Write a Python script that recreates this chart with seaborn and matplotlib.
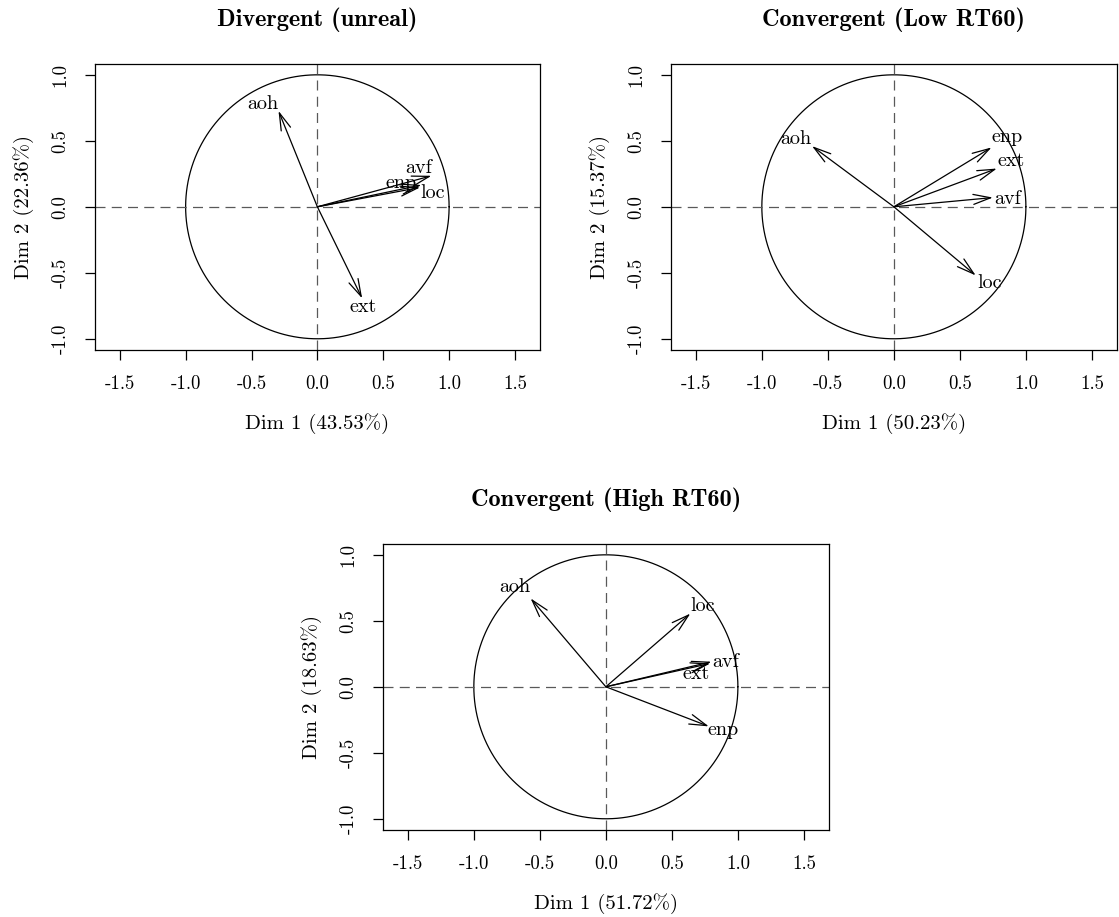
import numpy as np
import pandas as pd
import matplotlib
matplotlib.use("Agg")
import matplotlib.pyplot as plt
import seaborn as sns

# ---------------- data ----------------
variables = ["aoh", "avf", "enp", "loc", "ext"]
titles = ["Divergent (unreal)", "Convergent (Low RT60)", "Convergent (High RT60)"]
dim1_pct = [43.53, 50.23, 51.72]
dim2_pct = [22.36, 15.37, 18.63]

div_dim1 = [-0.295, 0.866, 0.79, 0.78, 0.34]
div_dim2 = [0.727, 0.235, 0.165, 0.147, -0.694]
low_dim1 = [-0.62, 0.75, 0.74, 0.62, 0.78]
low_dim2 = [0.46, 0.07, 0.45, -0.52, 0.29]
high_dim1 = [-0.57, 0.80, 0.78, 0.64, 0.79]
high_dim2 = [0.67, 0.19, -0.30, 0.555, 0.177]

x_ticks = [-1.5, -1.0, -0.5, 0.0, 0.5, 1.0, 1.5]
y_ticks = [-1.0, -0.5, 0.0, 0.5, 1.0]

# ---------------- layout (label placement, like autoLab) ----------------
label_pos = [
    {"aoh": (-0.417, 0.778), "avf": (0.765, 0.291), "enp": (0.639, 0.18),
     "loc": (0.877, 0.106), "ext": (0.344, -0.758)},
    {"aoh": (-0.745, 0.513), "avf": (0.863, 0.058), "enp": (0.861, 0.526),
     "loc": (0.722, -0.576), "ext": (0.889, 0.348)},
    {"aoh": (-0.686, 0.755), "avf": (0.905, 0.19), "enp": (0.89, -0.33),
     "loc": (0.73, 0.61), "ext": (0.685, 0.096)},
]

W, H = 1119, 917
axes_px = [(95, 64, 445, 286), (671, 64, 446, 286), (383, 544, 446, 286)]

sns.set_style("ticks")
plt.rcParams["font.family"] = ["cmr10", "DejaVu Serif"]
plt.rcParams["axes.unicode_minus"] = False
plt.rcParams["axes.linewidth"] = 0.9
plt.rcParams["xtick.major.width"] = 0.9
plt.rcParams["ytick.major.width"] = 0.9
for key in ["text.color", "axes.labelcolor", "xtick.color", "ytick.color",
            "xtick.labelcolor", "ytick.labelcolor", "axes.edgecolor"]:
    plt.rcParams[key] = "black"

fig = plt.figure(figsize=(W / 100, H / 100), dpi=100)

panels = [(div_dim1, div_dim2), (low_dim1, low_dim2), (high_dim1, high_dim2)]

theta = np.linspace(0, 2 * np.pi, 500)
circle = pd.DataFrame({"x": np.cos(theta), "y": np.sin(theta), "o": np.arange(len(theta))})

for i, ((d1, d2), (lx, ty, w, h)) in enumerate(zip(panels, axes_px)):
    ax = fig.add_axes([lx / W, (H - ty - h) / H, w / W, h / H])
    df = pd.DataFrame({"var": variables, "Dim1": d1, "Dim2": d2})

    sns.lineplot(data=circle, x="x", y="y", sort=False, estimator=None,
                 color="black", lw=0.9, ax=ax)
    ax.axhline(0, color="0.35", lw=0.9, dashes=(8, 5))
    ax.axvline(0, color="0.35", lw=0.9, dashes=(8, 5))

    for _, r in df.iterrows():
        ax.annotate("", xy=(r.Dim1, r.Dim2), xytext=(0, 0),
                    arrowprops=dict(arrowstyle="->,head_length=1.25,head_width=0.36",
                                    mutation_scale=10, lw=0.9, color="black",
                                    shrinkA=0, shrinkB=0))
        px, py = label_pos[i][r["var"]]
        ax.text(px, py, r["var"], ha="center", va="center", fontsize=14.5,
                color="black")

    ax.set_xlim(-1.688, 1.69)
    ax.set_ylim(-1.085, 1.082)
    ax.set_xticks(x_ticks)
    ax.set_yticks(y_ticks)
    ax.set_xticklabels([f"{t:.1f}" for t in x_ticks])
    ax.set_yticklabels([f"{t:.1f}" for t in y_ticks], rotation=90, va="center")
    ax.tick_params(axis="both", length=7.2, pad=11, labelsize=13.5, direction="out",
                   color="black", labelcolor="black")
    ax.set_xlabel(f"Dim 1 ({dim1_pct[i]:.2f}%)", fontsize=15, labelpad=14.5,
                  color="black")
    ax.set_ylabel(f"Dim 2 ({dim2_pct[i]:.2f}%)", fontsize=15, labelpad=13,
                  color="black")
    ax.set_title(titles[i], fontfamily="cmb10", fontsize=17.5, pad=27, color="black")
    for s in ax.spines.values():
        s.set_color("black")
        s.set_visible(True)

fig.savefig("out.png", dpi=100)
